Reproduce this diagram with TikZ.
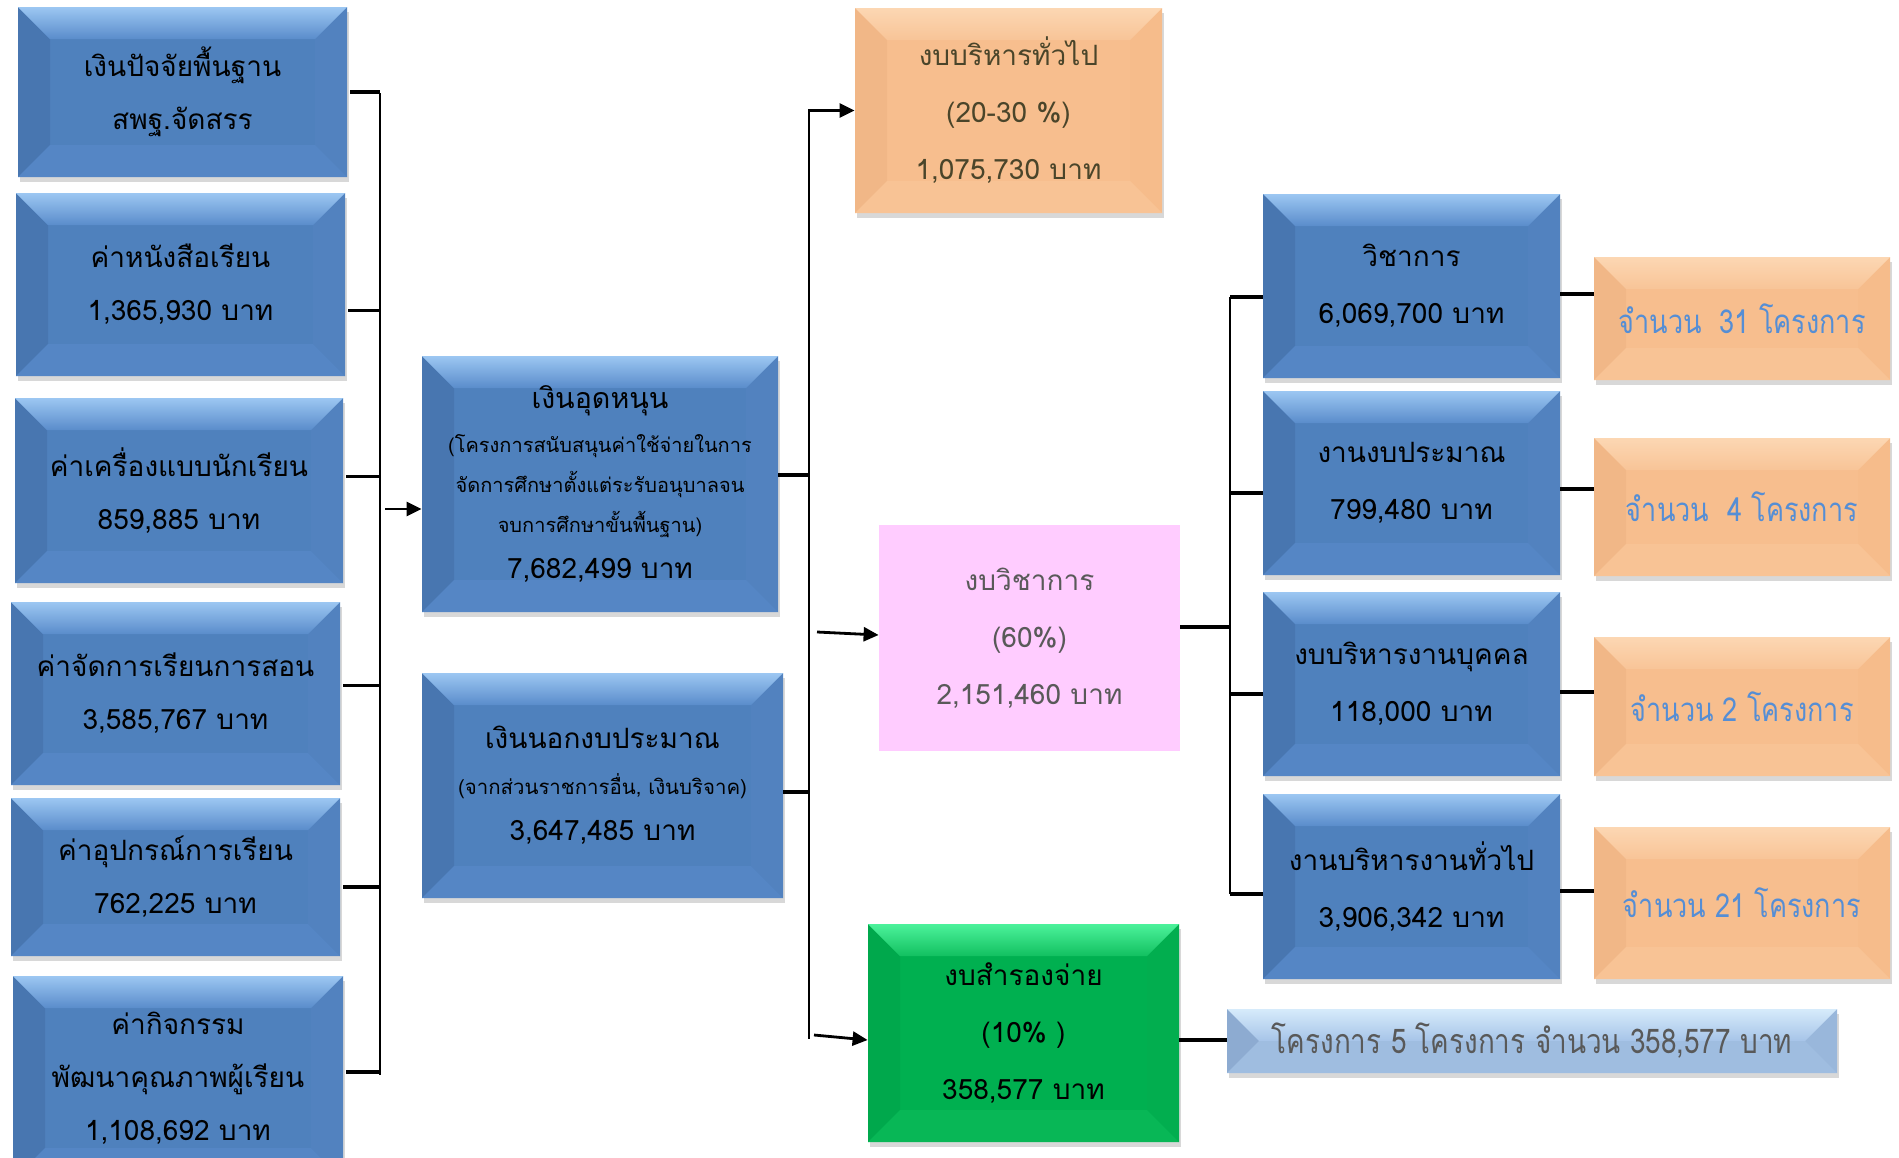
\documentclass[tikz,border=0pt]{standalone}
\usepackage{fontspec}
\setmainfont[Script=Thai]{Loma}
\newfontfamily\narrowfont[Script=Thai,FakeStretch=0.82]{Loma}
\usetikzlibrary{arrows.meta,shadows}

\definecolor{boxblue}{HTML}{4F81BD}
\definecolor{bluehi}{HTML}{9CC7F2}
\definecolor{bluemid}{HTML}{5A8CCB}
\definecolor{blueleft}{HTML}{4876B0}
\definecolor{blueright}{HTML}{5282BF}
\definecolor{bluelow}{HTML}{5586C5}
\definecolor{boxorange}{HTML}{F7BE8E}
\definecolor{orangehi}{HTML}{FCD7B3}
\definecolor{orangemid}{HTML}{F8C497}
\definecolor{orangeleft}{HTML}{F1B787}
\definecolor{orangeright}{HTML}{F6BC8B}
\definecolor{orangelow}{HTML}{F8C395}
\definecolor{boxgreen}{HTML}{00B050}
\definecolor{greenhi}{HTML}{4CF29B}
\definecolor{greenmid}{HTML}{12C060}
\definecolor{greenleft}{HTML}{00A84C}
\definecolor{greenright}{HTML}{02AE4F}
\definecolor{greenlow}{HTML}{08B756}
\definecolor{boxpale}{HTML}{95B3D7}
\definecolor{palehi}{HTML}{D6EBFB}
\definecolor{palemid}{HTML}{A6C4E8}
\definecolor{paleleft}{HTML}{8DABD1}
\definecolor{paleright}{HTML}{99B7DB}
\definecolor{palelow}{HTML}{9FBDE0}
\definecolor{boxpink}{HTML}{FFCCFF}
\definecolor{olivetext}{HTML}{4A452A}
\definecolor{greytext}{HTML}{595959}
\definecolor{counttext}{HTML}{558ED5}

\newcommand{\bevdepth}{16pt}

\tikzset{
  wh/.style 2 args={minimum width=#1*0.5pt, minimum height=#2*0.5pt},
  % bevel: top light, top dark, left, right, bottom
  bevel/.style n args={5}{path picture={
    \coordinate (pnw) at (path picture bounding box.north west);
    \coordinate (pne) at (path picture bounding box.north east);
    \coordinate (psw) at (path picture bounding box.south west);
    \coordinate (pse) at (path picture bounding box.south east);
    \fill[#3] (pnw) -- ([shift={(\bevdepth,-\bevdepth)}]pnw) -- ([shift={(\bevdepth,\bevdepth)}]psw) -- (psw) -- cycle;
    \fill[#4] (pne) -- ([shift={(-\bevdepth,-\bevdepth)}]pne) -- ([shift={(-\bevdepth,\bevdepth)}]pse) -- (pse) -- cycle;
    \shade[top color=#1, bottom color=#2] (pnw) -- (pne) -- ([shift={(-\bevdepth,-\bevdepth)}]pne) -- ([shift={(\bevdepth,-\bevdepth)}]pnw) -- cycle;
    \fill[#5] (psw) -- (pse) -- ([shift={(-\bevdepth,\bevdepth)}]pse) -- ([shift={(\bevdepth,\bevdepth)}]psw) -- cycle;
  }},
  box/.style={inner sep=0pt, align=center, drop shadow={opacity=0.3, shadow xshift=1pt, shadow yshift=-2.5pt}},
  bluebox/.style={box, fill=boxblue, bevel={bluehi}{bluemid}{blueleft}{blueright}{bluelow}, font=\fontsize{14}{26.5}\selectfont},
  orangebox/.style={box, fill=boxorange, bevel={orangehi}{orangemid}{orangeleft}{orangeright}{orangelow}},
  greenbox/.style={box, fill=boxgreen, bevel={greenhi}{greenmid}{greenleft}{greenright}{greenlow}, font=\fontsize{14}{28.5}\selectfont},
  palebox/.style={box, fill=boxpale, bevel={palehi}{palemid}{paleleft}{paleright}{palelow}},
  pinkbox/.style={inner sep=0pt, align=center, fill=boxpink, text=greytext, font=\fontsize{14}{28.5}\selectfont},
  countbox/.style={orangebox, text=counttext, font=\narrowfont\fontsize{16.5}{18}\selectfont},
  tick/.style={line width=1.6pt},
  bar/.style={line width=1pt},
  arr/.style={line width=1.4pt, -{Triangle[length=7.5pt,width=7pt]}}
}

\begin{document}
\begin{tikzpicture}[x=0.5pt, y=-0.5pt]
  \fill[white] (0,0) rectangle (1899,1157);
  \useasboundingbox (0,0) rectangle (1899,1157);

  % Left column: sources of the subsidy
  \node[bluebox, wh={329}{170}] (fund) at (182.5,92) {เงินปัจจัยพื้นฐาน\\สพฐ.จัดสรร};
  \node[bluebox, wh={329}{183}] (books) at (180.5,284.5) {ค่าหนังสือเรียน\\1,365,930 บาท};
  \node[bluebox, wh={328}{185}] (uniform) at (179,490.5) {ค่าเครื่องแบบนักเรียน\\859,885 บาท};
  \node[bluebox, wh={329}{183}] (teaching) at (175.5,693.5) {ค่าจัดการเรียนการสอน\\3,585,767 บาท};
  \node[bluebox, wh={329}{158}] (supplies) at (175.5,877) {ค่าอุปกรณ์การเรียน\\762,225 บาท};
  \node[bluebox, wh={330}{204}] (activity) at (178,1078) {ค่ากิจกรรม\\พัฒนาคุณภาพผู้เรียน\\1,108,692 บาท};

  % Middle column
  \node[bluebox, wh={356}{256}, font=\fontsize{10}{20}\selectfont] (subsidy) at (600,484)
    {{\fontsize{14.3}{20}\selectfont เงินอุดหนุน}\\[2pt](โครงการสนับสนุนค่าใช้จ่ายในการ\\จัดการศึกษาตั้งแต่ระรับอนุบาลจน\\จบการศึกษาขั้นพื้นฐาน)\\[3pt]{\fontsize{14}{20}\selectfont 7,682,499 บาท}};
  \node[bluebox, wh={361}{225}, font=\fontsize{10.2}{23}\selectfont] (extra) at (602.5,785.5)
    {{\fontsize{14}{23}\selectfont เงินนอกงบประมาณ}\\(จากส่วนราชการอื่น, เงินบริจาค)\\{\fontsize{14}{23}\selectfont 3,647,485 บาท}};

  % Budget split
  \node[orangebox, wh={307}{205}, text=olivetext, font=\fontsize{14}{28.5}\selectfont] (admin) at (1008.5,110.5) {งบบริหารทั่วไป\\(20-30 \%)\\1,075,730 บาท};
  \node[pinkbox, wh={301}{226}] (academic) at (1029.5,638) {งบวิชาการ\\(60\%)\\2,151,460 บาท};
  \node[greenbox, wh={311}{218}] (reserve) at (1023.5,1033) {งบสำรองจ่าย\\(10\% )\\358,577 บาท};

  % Work areas
  \node[bluebox, wh={297}{184}, font=\fontsize{14}{28.5}\selectfont] (acad) at (1411.5,286) {วิชาการ\\6,069,700 บาท};
  \node[bluebox, wh={297}{184}, font=\fontsize{14}{28.5}\selectfont] (budget) at (1411.5,483) {งานงบประมาณ\\799,480 บาท};
  \node[bluebox, wh={297}{184}, font=\fontsize{14}{28.5}\selectfont] (personnel) at (1411.5,684) {งบบริหารงานบุคคล\\118,000 บาท};
  \node[bluebox, wh={297}{185}, font=\fontsize{14}{28.5}\selectfont] (general) at (1411.5,886.5) {งานบริหารงานทั่วไป\\3,906,342 บาท};

  % Project counts
  \node[countbox, wh={296}{123}] (c1) at (1742,318.5) {จำนวน~~31 โครงการ};
  \node[countbox, wh={296}{138}] (c2) at (1742,507) {จำนวน~~4 โครงการ};
  \node[countbox, wh={296}{139}] (c3) at (1742,706.5) {จำนวน 2 โครงการ};
  \node[countbox, wh={296}{152}] (c4) at (1742,903) {จำนวน 21 โครงการ};
  \node[palebox, wh={610}{64}, text=greytext, font=\narrowfont\fontsize{17}{18}\selectfont] (resproj) at (1532,1041) {โครงการ 5 โครงการ จำนวน 358,577 บาท};

  % Bar ends
  \coordinate (ltop) at (380,93);
  \coordinate (lbot) at (380,1075);
  \coordinate (larr) at (385,509);
  \coordinate (mtop) at (809,109);
  \coordinate (mbot) at (809,1039);
  \coordinate (amid) at (817,632);
  \coordinate (abot) at (814,1035);
  \coordinate (rtop) at (1230,297);
  \coordinate (rbot) at (1230,894);

  % Left bracket
  \foreach \n/\dy in {fund/0, books/-13, uniform/7, teaching/4, supplies/-5, activity/3}{
    \coordinate (t\n) at ([xshift=1.5pt, yshift=\dy pt]\n.east);
    \draw[tick] (t\n) -- (t\n -| ltop);
  }
  \draw[bar] (ltop) -- (lbot);
  \draw[arr] (larr) -- (larr -| subsidy.west);

  % Middle bracket
  \coordinate (tsub) at ([yshift=4.5pt]subsidy.east);
  \coordinate (text) at ([yshift=-3.25pt]extra.east);
  \draw[tick] (tsub) -- (tsub -| mtop);
  \draw[tick] (text) -- (text -| mtop);
  \draw[bar] (mtop) -- (mbot);
  \draw[arr] (mtop |- admin.west) -- (admin.west);
  \draw[arr] (amid) -- ([yshift=1.5pt]academic.west);
  \draw[arr] (abot) -- ([yshift=-3.5pt]reserve.west);

  % Right bracket
  \coordinate (tacd) at ([yshift=5.5pt]academic.east);
  \draw[tick] (tacd) -- (tacd -| rtop);
  \draw[bar] (rtop) -- (rbot);
  \foreach \n/\m/\dy/\dz in {acad/c1/-5.5/-4, budget/c2/-5/-3, personnel/c3/-5/-4, general/c4/-3.75/-2.25}{
    \coordinate (w\n) at ([yshift=\dy pt]\n.west);
    \draw[tick] (w\n) -- (w\n -| rtop);
    \coordinate (e\n) at ([yshift=\dz pt]\n.east);
    \draw[tick] (e\n) -- (e\n -| \m.west);
  }
  \coordinate (tres) at ([yshift=-3.5pt]reserve.east);
  \draw[tick] (tres) -- (tres -| resproj.west);
\end{tikzpicture}
\end{document}
